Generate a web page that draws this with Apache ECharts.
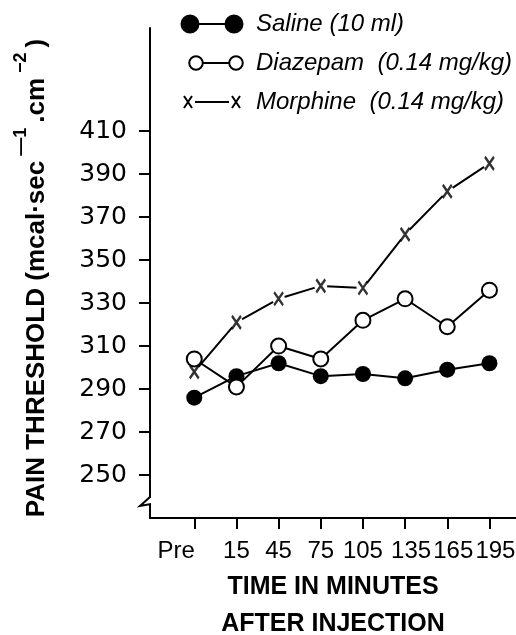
<!DOCTYPE html>
<html><head><meta charset="utf-8">
<script src="https://cdn.jsdelivr.net/npm/echarts@6/dist/echarts.min.js"></script>
<style>html,body{margin:0;padding:0;background:#fff}#c{width:516px;height:635px}</style>
</head><body><div id="c"></div>
<script>
const categories = ['Pre', '15', '45', '75', '105', '135', '165', '195'];
const salineValues = [286, 296, 302, 296, 297, 295, 299, 302];
const diazepamValues = [304, 291, 310, 304, 322, 332, 319, 336];
const morphineValues = [298, 321, 332, 338, 337, 362, 382, 395];
const yTickValues = [250, 270, 290, 310, 330, 350, 370, 390, 410];
const seriesNames = ['Saline (10 ml)', 'Diazepam  (0.14 mg/kg)', 'Morphine  (0.14 mg/kg)'];

const catIdx = categories.map((c, i) => i);
const pairs = vals => vals.map((v, i) => [i, v]);

const salineIcon = 'path://M0,0 M70,20 M0.5,10 A8.5,8.5 0 1 1 17.5,10 A8.5,8.5 0 1 1 0.5,10 Z M17.5,10 L44.5,10 M44.5,10 A8.5,8.5 0 1 1 61.5,10 A8.5,8.5 0 1 1 44.5,10 Z';
const diazIcon = 'path://M0,0 M70,20 M8.25,10 A6.75,6.75 0 1 1 21.75,10 A6.75,6.75 0 1 1 8.25,10 Z M21.75,10 L48.25,10 M48.25,10 A6.75,6.75 0 1 1 61.75,10 A6.75,6.75 0 1 1 48.25,10 Z';
const morphIcon = 'path://M0,0 M70,20 M3,4 L11,16 M11,4 L3,16 M14,10 L48,10 M51,4 L59,16 M59,4 L51,16';
const xMark = 'path://M0,0 L8,12 M8,0 L0,12';

const labelFont = {fontFamily: 'Liberation Sans', fontSize: 24, color: '#000'};

const chart = echarts.init(document.getElementById('c'), null, {renderer: 'canvas'});
const option = {
  animation: false,
  backgroundColor: '#fff',
  grid: {left: 150, right: 0, top: 28, bottom: 117, containLabel: false, outerBoundsMode: 'none'},
  legend: {
    orient: 'vertical', left: 180, top: 10, padding: 0, itemWidth: 70, itemHeight: 20, itemGap: 11,
    selectedMode: false,
    textStyle: {fontFamily: 'Liberation Sans', fontStyle: 'italic', fontSize: 24, lineHeight: 28, color: '#000'},
    data: [
      {name: seriesNames[0], icon: salineIcon, itemStyle: {color: '#000', borderColor: '#000', borderWidth: 2}},
      {name: seriesNames[1], icon: diazIcon, itemStyle: {color: '#fff', borderColor: '#000', borderWidth: 2}},
      {name: seriesNames[2], icon: morphIcon, itemStyle: {color: '#000', borderColor: '#000', borderWidth: 2}}
    ]
  },
  xAxis: {
    type: 'value', min: -1.05, max: 7.63,
    splitLine: {show: false},
    axisLine: {show: true, onZero: false, lineStyle: {color: '#000', width: 2}},
    axisTick: {show: true, length: 11, lineStyle: {color: '#000', width: 2}, customValues: catIdx},
    axisLabel: Object.assign({
      customValues: catIdx, margin: 21,
      formatter: v => {
        const i = Math.round(v);
        if (i === 0) return '{pre|' + categories[i] + '}';
        if (i >= 5) return '{r|' + categories[i] + '}';
        return categories[i];
      },
      rich: {
        pre: Object.assign({padding: [0, 36, 0, 0]}, labelFont),
        r: Object.assign({padding: [0, 0, 0, 12]}, labelFont)
      }
    }, labelFont),
    name: 'TIME IN MINUTES\nAFTER INJECTION',
    nameLocation: 'middle', nameGap: 51,
    nameTextStyle: {fontFamily: 'Liberation Sans', fontWeight: 'bold', fontSize: 25, lineHeight: 37, color: '#000'}
  },
  yAxis: {
    type: 'value', min: 230, max: 458,
    splitLine: {show: false},
    axisLine: {show: true, onZero: false, lineStyle: {color: '#000', width: 2}},
    axisTick: {show: true, length: 11, lineStyle: {color: '#000', width: 2}, customValues: yTickValues},
    axisLabel: {customValues: yTickValues, margin: 23, color: '#000', fontFamily: 'DejaVu Sans', fontSize: 25},
    name: '{b|PAIN THRESHOLD (mcal·sec}{s|—1}{b|.cm}{s|−2}{e|)}',
    nameLocation: 'middle', nameRotate: 90, nameGap: 88,
    nameTextStyle: {
      color: '#000', fontFamily: 'Liberation Sans', fontWeight: 'bold', fontSize: 26,
      rich: {
        b: {color: '#000', fontFamily: 'Liberation Sans', fontWeight: 'bold', fontSize: 26, lineHeight: 50},
        e: {color: '#000', fontFamily: 'Liberation Sans', fontWeight: 'bold', fontSize: 26, lineHeight: 50, padding: [0, 10, 0, 0]},
        s: {color: '#000', fontFamily: 'Liberation Sans', fontWeight: 'bold', fontSize: 18, lineHeight: 10, verticalAlign: 'top', padding: [0, 5, 0, 5]}
      }
    }
  },
  series: [
    {name: seriesNames[2], type: 'line', data: pairs(morphineValues), symbol: 'circle', symbolSize: 13,
     itemStyle: {color: '#fff', borderWidth: 0}, lineStyle: {color: '#000', width: 2}, z: 2},
    {name: 'morphineMarks', type: 'scatter', data: pairs(morphineValues), symbol: xMark, symbolSize: [9, 13],
     itemStyle: {color: '#000', borderColor: '#000', borderWidth: 2.5}, z: 5},
    {name: seriesNames[0], type: 'line', data: pairs(salineValues), symbol: 'circle', symbolSize: 16,
     itemStyle: {color: '#000'}, lineStyle: {color: '#000', width: 2}, z: 3},
    {name: seriesNames[1], type: 'line', data: pairs(diazepamValues), symbol: 'circle', symbolSize: 15,
     itemStyle: {color: '#fff', borderColor: '#000', borderWidth: 2}, lineStyle: {color: '#000', width: 2}, z: 4}
  ]
};
chart.setOption(option);

// axis break zigzag, positioned through the axis scales
const axX = chart.convertToPixel({xAxisIndex: 0}, -1.05);
const yA = chart.convertToPixel({yAxisIndex: 0}, 239.8);
const yB = chart.convertToPixel({yAxisIndex: 0}, 235.6);
const yC = chart.convertToPixel({yAxisIndex: 0}, 236.5);
chart.setOption({
  graphic: [
    {type: 'rect', z: 100, shape: {x: axX - 3, y: yA + 1, width: 6, height: yC - yA - 1}, style: {fill: '#fff'}},
    {type: 'polyline', z: 101, shape: {points: [[axX, yA], [axX - 10, yB], [axX + 1, yC]]}, style: {stroke: '#000', lineWidth: 2, fill: 'none'}}
  ]
});
</script>
</body></html>
